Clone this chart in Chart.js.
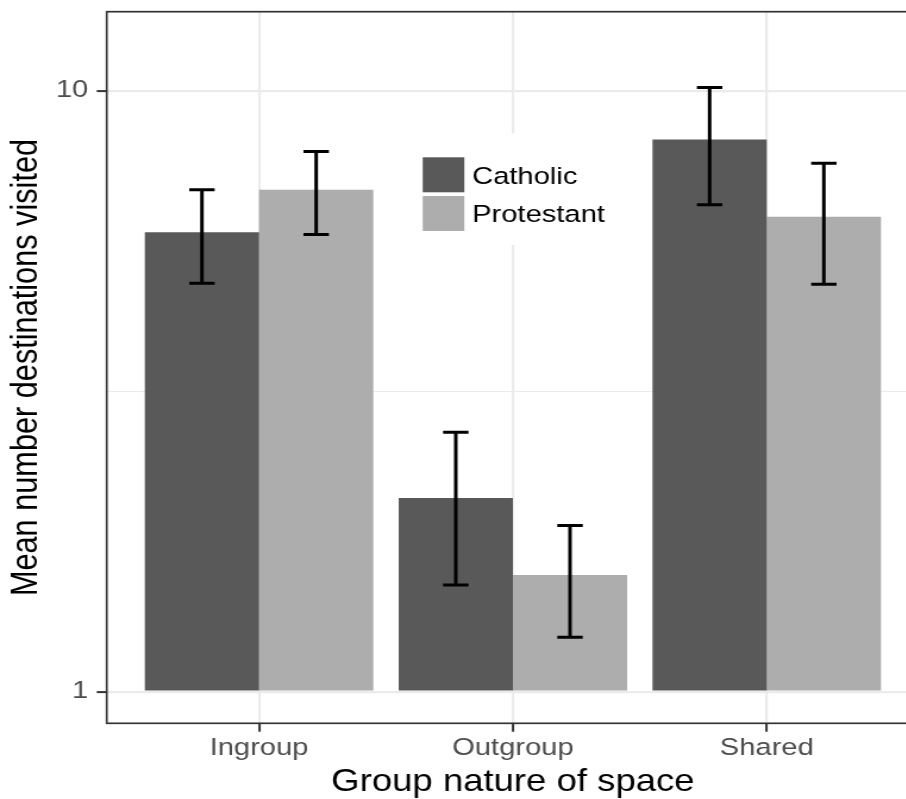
<!DOCTYPE html>
<html>
<head>
<meta charset="utf-8">
<script src="https://cdn.jsdelivr.net/npm/chart.js@4.4.1/dist/chart.umd.min.js"></script>
<style>
html, body { margin: 0; padding: 0; background: #ffffff; overflow: hidden; width: 906px; height: 799px; }
#chart { display: block; transform: scaleX(1.19); transform-origin: 0 0; }
</style>
</head>
<body>
<canvas id="chart" width="790" height="799"></canvas>
<script>
// ---- data ----
const categories = ['Ingroup', 'Outgroup', 'Shared'];
const seriesNames = ['Catholic', 'Protestant'];
const catholicMeans = [5.81, 2.10, 8.29];
const catholicLower = [4.78, 1.505, 6.46];
const catholicUpper = [6.84, 2.70, 10.12];
const protestantMeans = [6.84, 1.564, 6.17];
const protestantLower = [5.76, 1.232, 4.76];
const protestantUpper = [7.92, 1.889, 7.57];
const yTickLabels = [1, 10];
const yMinorBreaks = [3.1623];

const seriesColors = ['#595959', '#ADADAD'];
const FONT = "'Liberation Sans', Arial, Helvetica, sans-serif";

const errorData = [[catholicLower, catholicUpper], [protestantLower, protestantUpper]];

const panelPlugin = {
  id: 'panelExtras',
  afterDatasetsDraw(chart) {
    const { ctx, chartArea: a, scales: { y } } = chart;
    ctx.save();
    // error bars
    ctx.strokeStyle = '#000000';
    ctx.lineWidth = 3;
    ctx.lineCap = 'butt';
    chart.data.datasets.forEach((ds, di) => {
      const meta = chart.getDatasetMeta(di);
      meta.data.forEach((bar, i) => {
        const x = bar.x;
        const yl = y.getPixelForValue(errorData[di][0][i]);
        const yh = y.getPixelForValue(errorData[di][1][i]);
        const hw = 10.7;
        ctx.beginPath();
        ctx.moveTo(x, yl); ctx.lineTo(x, yh);
        ctx.moveTo(x - hw, yl); ctx.lineTo(x + hw, yl);
        ctx.moveTo(x - hw, yh); ctx.lineTo(x + hw, yh);
        ctx.stroke();
      });
    });
    // legend (inside panel)
    const lx = a.left + 255, ly = a.top + 121.6;
    ctx.fillStyle = '#ffffff';
    ctx.fillRect(lx, ly, 180, 111.7);
    const keyX = a.left + 265.5, keyW = 35;
    const keyTops = [a.top + 145.6, a.top + 184.3];
    const keyH = 35;
    ctx.font = '24.5px ' + FONT;
    ctx.textAlign = 'left';
    ctx.textBaseline = 'alphabetic';
    seriesNames.forEach((name, i) => {
      ctx.fillStyle = seriesColors[i];
      ctx.fillRect(keyX, keyTops[i], keyW, keyH);
      ctx.fillStyle = '#000000';
      ctx.fillText(name, keyX + 41.5, keyTops[i] + keyH / 2 + 8.8);
    });
    // panel border
    ctx.strokeStyle = '#333333';
    ctx.lineWidth = 1.7;
    ctx.strokeRect(a.left, a.top, a.right - a.left, a.bottom - a.top);
    ctx.restore();
  }
};

const isMinor = (c) => c.tick && yMinorBreaks.includes(c.tick.value);

new Chart(document.getElementById('chart'), {
  type: 'bar',
  data: {
    datasets: [
      {
        label: seriesNames[0],
        data: catholicMeans.map((v, i) => ({ x: i, y: v })),
        backgroundColor: seriesColors[0],
        base: 1,
        borderWidth: 0,
        categoryPercentage: 0.9,
        barPercentage: 1.0
      },
      {
        label: seriesNames[1],
        data: protestantMeans.map((v, i) => ({ x: i, y: v })),
        backgroundColor: seriesColors[1],
        base: 1,
        borderWidth: 0,
        categoryPercentage: 0.9,
        barPercentage: 1.0
      }
    ]
  },
  options: {
    responsive: false,
    animation: false,
    devicePixelRatio: 1,
    layout: { padding: { left: 0, right: 17.7, top: 11.7, bottom: 0 } },
    plugins: { legend: { display: false }, tooltip: { enabled: false } },
    scales: {
      x: {
        type: 'linear',
        offset: false,
        min: -0.6,
        max: 2.6,
        afterBuildTicks(s) { s.ticks = categories.map((c, i) => ({ value: i })); },
        afterFit(s) { s.height = 75.7; s.paddingLeft = 0; s.paddingRight = 0; },
        ticks: {
          autoSkip: false,
          maxRotation: 0,
          minRotation: 0,
          padding: 1.6,
          color: '#4D4D4D',
          font: { family: FONT, size: 24.5 },
          callback: (v) => categories[v] !== undefined ? categories[v] : ''
        },
        grid: { offset: false, color: '#EBEBEB', lineWidth: 2.2, tickLength: 8.4, tickColor: '#333333', tickWidth: 2 },
        border: { display: false },
        title: {
          display: true,
          text: 'Group nature of space',
          color: '#000000',
          font: { family: FONT, size: 30.7 },
          padding: { top: 0, bottom: -1.8 }
        }
      },
      y: {
        type: 'logarithmic',
        min: 0.8857,
        max: 13.53,
        afterBuildTicks(s) {
          s.ticks = [...yTickLabels, ...yMinorBreaks].sort((p, q) => p - q).map(v => ({ value: v }));
        },
        afterFit(s) { s.width = 89.7; s.paddingTop = 0; s.paddingBottom = 0; },
        ticks: {
          autoSkip: false,
          padding: 7.1,
          color: '#4D4D4D',
          font: { family: FONT, size: 24.5 },
          callback: (v) => yTickLabels.includes(v) ? String(v) : ''
        },
        grid: {
          color: '#EBEBEB',
          lineWidth: (c) => isMinor(c) ? 1.1 : 2.2,
          tickLength: 8.4,
          tickColor: (c) => isMinor(c) ? 'rgba(0,0,0,0)' : '#333333',
          tickWidth: 2
        },
        border: { display: false },
        title: {
          display: true,
          text: 'Mean number destinations visited',
          color: '#000000',
          font: { family: FONT, size: 30.7 },
          padding: { top: 4, bottom: 0 }
        }
      }
    }
  },
  plugins: [panelPlugin]
});
</script>
</body>
</html>
